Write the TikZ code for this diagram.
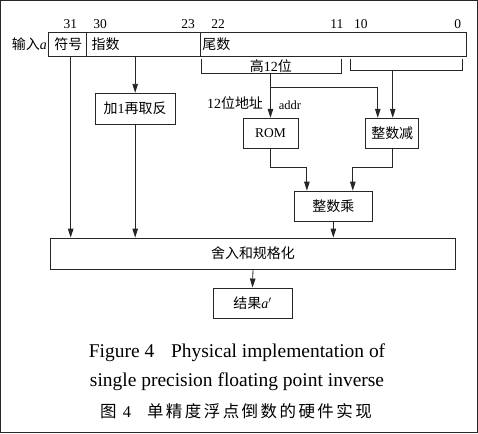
\documentclass[tikz,border=0pt]{standalone}
\usepackage{fontspec}
\setmainfont{Liberation Serif}
\newfontfamily\cjk{Noto Sans CJK SC}
\newcommand\lat[1]{{\rmfamily #1}}
\usetikzlibrary{arrows.meta}
\begin{document}
\begin{tikzpicture}[x=1pt,y=-1pt,line width=0.8pt,
  every path/.style={draw=black!85},
  reg/.style={draw, minimum height=24, inner sep=0, anchor=north west},
  box/.style={draw, inner sep=0, font=\cjk\fontsize{14}{14}\selectfont},
  cn/.style={inner sep=0, font=\cjk\fontsize{14}{14}\selectfont},
  num/.style={inner sep=0, font=\rmfamily\fontsize{13.5}{13.5}\selectfont},
  captext/.style={inner sep=0, anchor=base, font=\rmfamily\fontsize{19.5}{19.5}\selectfont},
  arr/.style={-{Triangle[length=9pt,width=5.5pt]}}]
\useasboundingbox (0,0) rectangle (478,433);
% register
\node[reg, minimum width=38] (sign) at (48,32) {};
\node[reg, minimum width=114] (exp) at (86,32) {};
\node[reg, minimum width=266] (mant) at (200,32) {};
\node[cn] (signl) at (68,44) {符号};
\node[cn, anchor=west] (expl) at (91,44) {指数};
\node[cn, anchor=west] (mantl) at (202,44) {尾数};
\node[cn, anchor=east] (inl) at (47,44) {输入\lat{\textit{a}}};
% bit numbers
\node[num] (b31) at (70,24) {31};
\node[num] (b30) at (100,24) {30};
\node[num] (b23) at (188,24) {23};
\node[num] (b22) at (218,24) {22};
\node[num] (b11) at (337,24) {11};
\node[num] (b10) at (361,24) {10};
\node[num] (b0) at (458,24) {0};
% brackets
\draw (201,59) -- (201,73) -- (342,73) -- (342,59);
\draw (351,59) -- (351,70) -- (463,70) -- (463,59);
\node[cn] (hil) at (271,65.5) {高\lat{12}位};
\coordinate (hi) at (270.5,73);
\coordinate (br) at (270.5,87);
\coordinate (lo) at (393,70);
% boxes
\node[box, minimum width=80, minimum height=31] (inc) at (135,108.5) {加\lat{1}再取反};
\node[box, minimum width=55, minimum height=30, font=\rmfamily\fontsize{13.5}{13.5}\selectfont] (rom) at (270.5,133) {ROM};
\node[box, minimum width=53, minimum height=30] (sub) at (392.5,133) {整数减};
\node[box, minimum width=79, minimum height=30] (mul) at (333.5,206) {整数乘};
\node[box, minimum width=406, minimum height=31] (norm) at (253,253.5) {舍入和规格化};
\node[box, minimum width=79, minimum height=31] (res) at (252.5,303.5) {结果\lat{\textit{a}$'$}};
% labels
\node[cn] (addrl) at (235,103) {\lat{12}位地址};
\node[num, font=\rmfamily\fontsize{12.5}{12.5}\selectfont] (addr) at (290,105) {addr};
% connectors
\draw[arr] (inc.north |- exp.south) -- (inc.north);
\draw[arr] (hi) -- (hi |- rom.north);
\draw[arr] (br) -| ([xshift=-14.5pt]sub.north);
\draw[arr] (lo) -- (lo |- sub.north);
\draw[arr] (rom.south) -- ++(0,19) -| ([xshift=-26.5pt]mul.north);
\draw[arr] (sub.south) -- ++(0,19) -| ([xshift=19.5pt]mul.north);
\draw[arr] ([xshift=3pt]sign.south) -- ([xshift=3pt]sign.south |- norm.north);
\draw[arr] (inc.south) -- (inc.south |- norm.north);
\draw[arr] (mul.south) -- (mul.south |- norm.north);
\draw[arr] (norm.south) -- (res.north);
% caption
\node[captext] (cap1) at (237,358) {Figure 4\hspace{12pt} Physical implementation of};
\node[captext] (cap2) at (237,387) {single precision floating point inverse};
\node[inner sep=0, font=\cjk\fontsize{16.5}{16.5}\selectfont\addfontfeature{LetterSpace=15}] (cap3) at (236,411) {图 \lat{4}\hspace{16pt}单精度浮点倒数的硬件实现};
\end{tikzpicture}
\end{document}
